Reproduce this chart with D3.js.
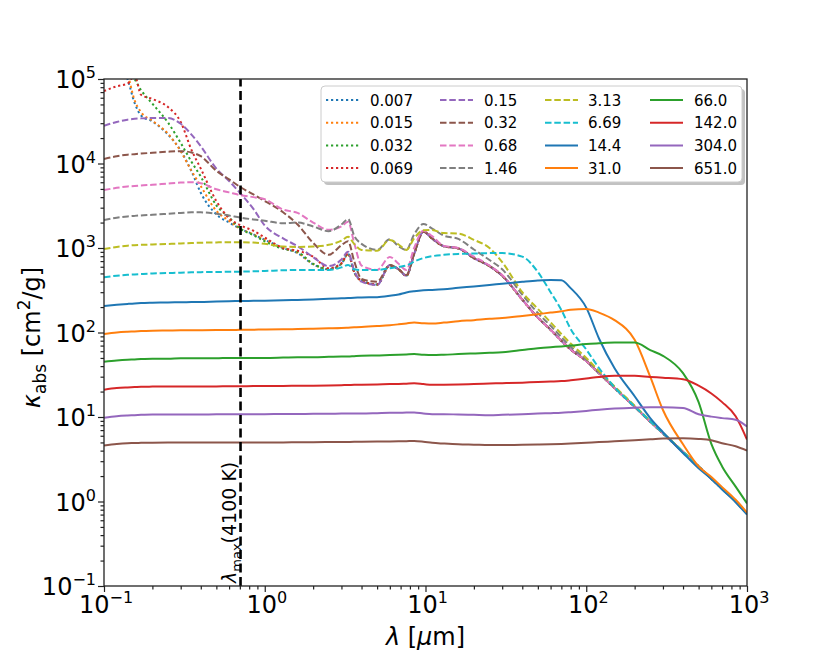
<!DOCTYPE html>
<html>
<head>
<meta charset="utf-8">
<script src="https://cdn.jsdelivr.net/npm/d3@7"></script>
<style>
  body { margin: 0; background: #fff; }
  text { font-family: "DejaVu Sans", sans-serif; fill: #000; }
</style>
</head>
<body>
<div id="chart"></div>
<script>
// wavelengths (micron) shared by every curve
const wavelength = [0.1, 0.12, 0.14, 0.155, 0.17, 0.2, 0.25, 0.3, 0.35, 0.4,
  0.5, 0.6, 0.7, 0.85, 1, 1.3, 1.6, 2, 2.5, 3,
  3.3, 3.6, 4, 5, 6, 6.8, 7.6, 8.5, 9.7, 11,
  13, 16, 20, 25, 30, 40, 50, 60, 70, 80,
  100, 120, 150, 200, 250, 300, 400, 500, 600, 700,
  850, 1000];

// legend labels (grain size)
const sizeLabels = ["0.007", "0.015", "0.032", "0.069", "0.15", "0.32", "0.68", "1.46",
  "3.13", "6.69", "14.4", "31.0", "66.0", "142.0", "304.0", "651.0"];

// kappa_abs [cm2/g], one array per grain size
const k007 = [250000, 160000, 100000, 52000, 37000, 31500, 22000, 14200, 8100, 4500,
  2500, 2000, 1700, 1450, 1250, 1000, 870, 640, 560, 650,
  850, 520, 410, 370, 620, 560, 470, 850, 1560, 1290,
  1050, 990, 760, 610, 470, 245, 150, 108, 80, 63,
  46, 33, 22, 13.2, 8.8, 6.4, 3.85, 2.6, 1.86, 1.42,
  1.0, 0.72];
const k015 = [300000, 200000, 115000, 56000, 40500, 32000, 22500, 14000, 8200, 5400,
  2750, 2100, 1700, 1450, 1250, 1000, 880, 645, 560, 650,
  850, 520, 410, 370, 620, 560, 470, 850, 1560, 1290,
  1050, 990, 760, 610, 470, 245, 150, 108, 80, 63,
  46, 33, 22, 13.2, 8.8, 6.4, 3.85, 2.6, 1.86, 1.42,
  1.0, 0.72];
const k032 = [400000, 250000, 140000, 100000, 74000, 51000, 30500, 17500, 10500, 7000,
  3200, 2300, 1710, 1420, 1200, 980, 900, 650, 565, 655,
  855, 520, 410, 370, 620, 560, 470, 850, 1560, 1290,
  1050, 990, 760, 610, 470, 245, 150, 108, 80, 63,
  46, 33, 22, 13.2, 8.8, 6.4, 3.85, 2.6, 1.86, 1.42,
  1.0, 0.72];
const k069 = [72000, 82000, 88000, 110000, 65000, 58000, 46500, 31000, 14500, 8700,
  3600, 2250, 1870, 1600, 1330, 1000, 930, 790, 575, 660,
  860, 525, 410, 370, 620, 560, 470, 850, 1560, 1290,
  1050, 990, 760, 610, 470, 245, 150, 108, 80, 63,
  46, 33, 22, 13.2, 8.8, 6.4, 3.85, 2.6, 1.86, 1.42,
  1.0, 0.72];
const k15 = [28000, 31000, 33000, 33800, 34200, 34500, 34500, 29500, 22000, 16000,
  8700, 6200, 4500, 2900, 1850, 1300, 1050, 780, 610, 730,
  900, 540, 400, 365, 630, 560, 470, 850, 1560, 1290,
  1050, 990, 760, 610, 470, 245, 150, 108, 80, 63,
  46, 33, 22, 13.2, 8.8, 6.4, 3.85, 2.6, 1.86, 1.42,
  1.0, 0.72];
const k32 = [11300, 12200, 12700, 12900, 13100, 13400, 13800, 14000, 13500, 12200,
  8200, 6500, 5300, 4300, 3600, 2650, 1900, 1150, 830, 1080,
  1200, 700, 430, 400, 630, 560, 480, 850, 1560, 1300,
  1050, 990, 760, 610, 470, 245, 150, 108, 80, 63,
  46, 33, 22, 13.2, 8.8, 6.4, 3.85, 2.6, 1.86, 1.42,
  1.0, 0.72];
const k68 = [4850, 5150, 5350, 5420, 5500, 5600, 5800, 5950, 6000, 5850,
  4950, 4550, 4240, 4000, 3770, 2850, 2600, 2000, 1640, 1800,
  2050, 1150, 620, 550, 784, 650, 549, 1000, 1600, 1380,
  1060, 1000, 790, 620, 480, 245, 150, 108, 80, 63,
  46, 33, 22, 13.2, 8.8, 6.4, 3.85, 2.6, 1.86, 1.42,
  1.0, 0.72];
const k146 = [2140, 2280, 2360, 2400, 2430, 2470, 2540, 2600, 2640, 2640,
  2540, 2420, 2290, 2180, 2100, 1960, 2000, 1800, 1580, 1900,
  2200, 1400, 1120, 950, 1270, 1050, 950, 1450, 1920, 1700,
  1400, 1280, 960, 721, 560, 280, 170, 120, 88, 68,
  48, 34, 22.5, 13.4, 8.9, 6.45, 3.87, 2.6, 1.86, 1.42,
  1.0, 0.72];
const k313 = [972, 1030, 1065, 1080, 1090, 1100, 1115, 1130, 1145, 1155,
  1165, 1170, 1170, 1160, 1120, 1040, 1030, 1040, 1090, 1220,
  1360, 1120, 950, 930, 1245, 1100, 950, 1300, 1620, 1633,
  1500, 1480, 1250, 1000, 680, 300, 190, 132, 96, 74,
  50, 35, 23, 13.6, 9.0, 6.5, 3.9, 2.6, 1.87, 1.42,
  1.0, 0.72];
const k669 = [450, 470, 482, 487, 492, 500, 505, 510, 515, 518,
  520, 523, 525, 530, 535, 545, 550, 550, 550, 590,
  630, 560, 549, 549, 575, 600, 620, 690, 760, 800,
  830, 852, 860, 870, 870, 790, 520, 300, 185, 110,
  63, 38, 22.5, 13.3, 8.9, 6.45, 3.87, 2.6, 1.86, 1.42,
  1.0, 0.72];
const k144 = [206, 213, 218, 221, 223, 225, 227, 228, 229, 230,
  232, 234, 236, 237, 238, 240, 243, 246, 250, 254,
  256, 258, 260, 262, 272, 282, 298, 308, 316, 319,
  325, 338, 350, 364, 378, 398, 412, 418, 415, 335,
  197, 85, 37.7, 17.6, 9.7, 6.6, 3.75, 2.47, 1.85, 1.39,
  0.98, 0.70];
const k310 = [96, 100, 102, 103, 104, 105, 105.5, 106, 106, 106.5,
  107, 107, 107.5, 108, 108.5, 109, 110, 111, 112, 113,
  114, 115, 116, 119, 122, 125, 128, 131, 129, 128,
  131, 136, 140, 145, 148, 157, 165, 172, 178, 186,
  190, 172, 140, 82, 30, 12.1, 4.75, 2.6, 1.95, 1.48,
  1.05, 0.74];
const k660 = [45, 46.5, 47.5, 48, 48.5, 49, 49, 49.5, 49.5, 49.5,
  49.5, 50, 50, 50, 50, 50.5, 51, 51, 51.5, 52,
  52, 52.5, 53, 53.5, 54, 54.5, 55, 55.5, 54.5, 54,
  54.5, 55.5, 56.5, 57.5, 58.5, 62, 65, 67, 68.5, 70,
  73, 74.5, 76, 76, 62, 53, 33, 15, 4.8, 2.6,
  1.5, 0.95];
const k1420 = [21, 22, 22.4, 22.6, 22.8, 22.9, 23, 23, 23, 23,
  23, 23.1, 23.1, 23.2, 23.2, 23.3, 23.4, 23.5, 23.6, 23.8,
  23.9, 24, 24.1, 24.3, 24.5, 24.6, 24.8, 25, 24.5, 24,
  24.1, 24.3, 24.6, 24.9, 25.1, 25.5, 26, 26.3, 26.6, 27.2,
  28.5, 29.8, 30.8, 30.8, 29.8, 29.2, 28, 23.5, 19, 15,
  10.2, 5.4];
const k3040 = [9.8, 10.2, 10.4, 10.5, 10.6, 10.7, 10.7, 10.7, 10.7, 10.7,
  10.75, 10.75, 10.8, 10.8, 10.8, 10.85, 10.85, 10.9, 10.9, 11,
  11, 11, 11, 11.1, 11.2, 11.2, 11.3, 11.3, 11.0, 10.8,
  10.8, 10.7, 10.6, 10.5, 10.6, 10.8, 11, 11.1, 11.2, 11.4,
  11.8, 12.2, 12.6, 12.9, 13, 13, 12.8, 10.8, 10.1, 9.7,
  9.3, 7.7];
const k6510 = [4.6, 4.8, 4.9, 4.92, 4.95, 4.97, 4.98, 5.0, 5.0, 5.0,
  5.0, 5.0, 5.0, 5.0, 5.0, 5.0, 5.02, 5.03, 5.05, 5.06,
  5.07, 5.08, 5.1, 5.12, 5.14, 5.15, 5.17, 5.2, 5.1, 4.95,
  4.85, 4.75, 4.7, 4.65, 4.65, 4.7, 4.72, 4.75, 4.8, 4.85,
  4.95, 5.05, 5.15, 5.3, 5.45, 5.55, 5.6, 5.5, 5.3, 4.9,
  4.5, 4.0];

const xTicks = [0.1, 1, 10, 100, 1000];
const yTicks = [0.1, 1, 10, 100, 1000, 10000, 100000];
const lambdaMax = 2898 / 4100; // Wien peak for 4100 K

const curves = [k007, k015, k032, k069, k15, k32, k68, k146,
  k313, k669, k144, k310, k660, k1420, k3040, k6510];
const colors = ["#1f77b4", "#ff7f0e", "#2ca02c", "#d62728", "#9467bd",
  "#8c564b", "#e377c2", "#7f7f7f", "#bcbd22", "#17becf"];
// first 4 dotted, next 6 dashed, rest solid
const dashFor = i => i < 4 ? "2.2,2.8" : (i < 10 ? "6.5,2.8" : null);

const W = 831, H = 658;
const L = 104, R = 747, T = 79, B = 586;

const svg = d3.select("#chart").append("svg")
  .attr("width", W).attr("height", H);

const x = d3.scaleLog().domain([0.1, 1000]).range([L, R]);
const y = d3.scaleLog().domain([0.1, 1e5]).range([B, T]);

svg.append("defs").append("clipPath").attr("id", "plotclip")
  .append("rect").attr("x", L).attr("y", T).attr("width", R - L).attr("height", B - T);

// curves
const line = d3.line()
  .x((d, i) => x(wavelength[i]))
  .y(d => y(d))
  .curve(d3.curveMonotoneX);

const plot = svg.append("g").attr("clip-path", "url(#plotclip)");
curves.forEach((c, i) => {
  plot.append("path")
    .datum(c)
    .attr("d", line)
    .attr("fill", "none")
    .attr("stroke", colors[i % 10])
    .attr("stroke-width", 2)
    .attr("stroke-dasharray", dashFor(i));
});

// lambda_max line
plot.append("line")
  .attr("x1", x(lambdaMax)).attr("x2", x(lambdaMax))
  .attr("y1", B).attr("y2", T)
  .attr("stroke", "#000").attr("stroke-width", 2.6)
  .attr("stroke-dasharray", "9,4.5");

svg.append("text")
  .attr("transform", `translate(${x(lambdaMax) - 5},${B - 3}) rotate(-90)`)
  .attr("font-size", 19)
  .call(t => {
    t.append("tspan").attr("font-style", "italic").text("λ");
    t.append("tspan").attr("font-size", 13).attr("dy", 5).text("max");
    t.append("tspan").attr("dy", -5).text("(4100 K)");
  });

// minor ticks
const minors = [];
for (let e = -1; e < 5; e++) for (let m = 2; m < 10; m++) minors.push(m * Math.pow(10, e));

svg.append("g").attr("transform", `translate(0,${B})`)
  .call(d3.axisBottom(x).tickValues(minors.filter(v => v < 1000)).tickSize(3.5).tickFormat(""))
  .call(g => g.select(".domain").remove());
svg.append("g").attr("transform", `translate(0,${B})`)
  .call(d3.axisBottom(x).tickValues(xTicks).tickSize(6).tickFormat(""))
  .call(g => g.select(".domain").remove());
svg.append("g").attr("transform", `translate(${L},0)`)
  .call(d3.axisLeft(y).tickValues(minors).tickSize(3.5).tickFormat(""))
  .call(g => g.select(".domain").remove());
svg.append("g").attr("transform", `translate(${L},0)`)
  .call(d3.axisLeft(y).tickValues(yTicks).tickSize(6).tickFormat(""))
  .call(g => g.select(".domain").remove());
svg.selectAll(".tick line").attr("stroke", "#222").attr("stroke-width", 1.2);

// frame
svg.append("rect").attr("x", L).attr("y", T).attr("width", R - L).attr("height", B - T)
  .attr("fill", "none").attr("stroke", "#222").attr("stroke-width", 1.3);

// power-of-ten labels
function pow10(t, v) {
  const e = Math.round(Math.log10(v));
  t.append("tspan").text("10");
  t.append("tspan").attr("font-size", 16).attr("dy", -10).text(e < 0 ? "\u2212" + (-e) : e);
}
xTicks.forEach(v => {
  svg.append("text").attr("x", x(v) + 2).attr("y", B + 27)
    .attr("text-anchor", "middle").attr("font-size", 24)
    .call(t => pow10(t, v));
});
yTicks.forEach(v => {
  svg.append("text").attr("x", L - 8).attr("y", y(v) + 9)
    .attr("text-anchor", "end").attr("font-size", 24)
    .call(t => pow10(t, v));
});

// axis titles
svg.append("text").attr("x", (L + R) / 2).attr("y", 645)
  .attr("text-anchor", "middle").attr("font-size", 24)
  .call(t => {
    t.append("tspan").attr("font-style", "italic").text("λ");
    t.append("tspan").text(" [");
    t.append("tspan").attr("font-style", "italic").text("μ");
    t.append("tspan").text("m]");
  });

svg.append("text")
  .attr("transform", `translate(40,${(T + B) / 2 + 5}) rotate(-90)`)
  .attr("text-anchor", "middle").attr("font-size", 24)
  .call(t => {
    t.append("tspan").attr("font-style", "italic").text("κ");
    t.append("tspan").attr("font-size", 17).attr("dy", 6).text("abs");
    t.append("tspan").attr("dy", -6).text(" [cm");
    t.append("tspan").attr("font-size", 17).attr("dy", -10).text("2");
    t.append("tspan").attr("dy", 10).text("/g]");
  });

// legend
const lg = svg.append("g");
lg.append("rect").attr("x", 324).attr("y", 89).attr("width", 421).attr("height", 96)
  .attr("rx", 4).attr("fill", "#999").attr("opacity", 0.6);
lg.append("rect").attr("x", 321).attr("y", 86).attr("width", 421).attr("height", 96)
  .attr("rx", 4).attr("fill", "#fff").attr("stroke", "#ccc").attr("stroke-width", 1);

const colLine = [326, 440, 545, 650];
const colText = [370, 484, 588, 694];
sizeLabels.forEach((s, i) => {
  const c = Math.floor(i / 4), r = i % 4;
  const yy = 100 + r * 22.7;
  lg.append("line")
    .attr("x1", colLine[c]).attr("x2", colLine[c] + 33)
    .attr("y1", yy).attr("y2", yy)
    .attr("stroke", colors[i % 10]).attr("stroke-width", 2)
    .attr("stroke-dasharray", dashFor(i));
  lg.append("text").attr("x", colText[c]).attr("y", yy + 5.5)
    .attr("font-size", 15).text(s);
});
</script>
</body>
</html>
